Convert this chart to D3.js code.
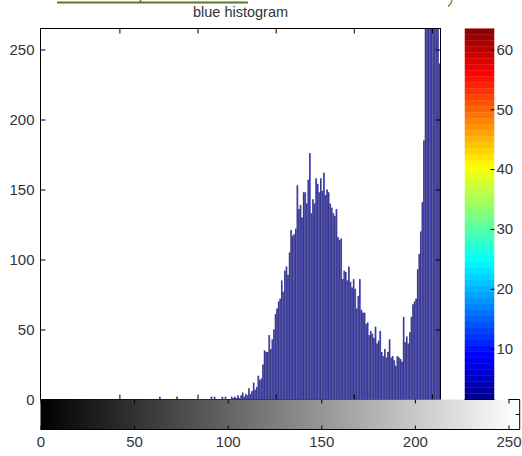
<!DOCTYPE html>
<html>
<head>
<meta charset="utf-8">
<script src="https://d3js.org/d3.v7.min.js"></script>
<style>
  body { margin: 0; background: #fff; }
  text { font-family: "Liberation Sans", Arial, sans-serif; }
</style>
</head>
<body>
<svg id="chart" width="522" height="456"></svg>
<script>
// pixel counts per blue intensity 0..255, 16 bins per row
var blueCounts = [
  0, 0, 0, 0, 0, 0, 0, 0, 0, 0, 0, 0, 0, 0, 0, 0,
  0, 0, 0, 0, 0, 0, 0, 0, 0, 0, 0, 0, 0, 0, 0, 0,
  0, 0, 0, 0, 0, 0, 0, 0, 0, 0, 0, 0, 0, 0, 0, 0,
  0, 0, 0, 0, 0, 0, 0, 0, 0, 0, 0, 0, 0, 0, 0, 0,
  0, 0, 0, 0, 0, 0, 0, 0, 0, 0, 0, 0, 2, 0, 0, 0,
  0, 0, 0, 0, 0, 0, 0, 2, 0, 0, 0, 0, 0, 0, 0, 0,
  0, 0, 0, 0, 0, 0, 0, 0, 0, 0, 0, 0, 0, 2, 0, 2,
  0, 0, 0, 0, 2, 0, 2, 0, 0, 0, 2, 1, 2, 1, 3, 1,
  3, 5, 2, 4, 3, 8, 4, 6, 12, 7, 9, 17, 14, 15, 25, 35,
  34, 34, 46, 36, 43, 50, 61, 65, 70, 72, 85, 77, 92, 95, 89, 105,
  121, 117, 118, 122, 153, 136, 139, 130, 148, 148, 140, 157, 176, 133, 143, 140,
  158, 154, 148, 158, 149, 162, 146, 150, 148, 140, 137, 133, 131, 136, 116, 114,
  115, 86, 92, 91, 85, 95, 84, 80, 86, 79, 65, 74, 86, 64, 62, 62,
  54, 55, 46, 49, 47, 44, 52, 40, 42, 49, 34, 31, 36, 30, 34, 43,
  30, 31, 28, 24, 31, 30, 29, 27, 59, 41, 45, 40, 48, 59, 68, 70,
  72, 93, 104, 120, 141, 185, 320, 410, 520, 600, 680, 720, 650, 560, 480, 240
];
var histTicks = [50, 100, 150, 200, 250];
var countTicks = [0, 50, 100, 150, 200, 250];
var grayTicks = [0, 50, 100, 150, 200, 250];
var colorTicks = [10, 20, 30, 40, 50, 60];
var titleText = "blue histogram";

var svg = d3.select("#chart");
var box = { left: 40.5, right: 440.5, top: 28.5, bottom: 399.5 };

var x = d3.scaleLinear().domain([-0.5, 255.5]).range([box.left, box.right]);
var y = d3.scaleLinear().domain([0, 265]).range([box.bottom, box.top]);
var gx = d3.scaleLinear().domain([0, 256]).range([40.5, 519.7]);
var cy = d3.scaleLinear().domain([1.5, 63.5]).range([399.5, 28.5]);

function jet(t) {
  function cl(v) { return Math.max(0, Math.min(1, v)); }
  var r = cl(1.5 - Math.abs(4 * t - 3)),
      g = cl(1.5 - Math.abs(4 * t - 2)),
      b = cl(1.5 - Math.abs(4 * t - 1));
  return d3.rgb(r * 255, g * 255, b * 255).toString();
}

var defs = svg.append("defs");
defs.append("clipPath").attr("id", "plotclip")
  .append("rect")
  .attr("x", box.left).attr("y", box.top)
  .attr("width", box.right - box.left).attr("height", box.bottom - box.top);
defs.append("clipPath").attr("id", "cbclip")
  .append("rect")
  .attr("x", 464.5).attr("y", 28.5).attr("width", 30).attr("height", 371);
var grad = defs.append("linearGradient").attr("id", "grayramp")
  .attr("gradientUnits", "userSpaceOnUse")
  .attr("x1", gx(0)).attr("x2", gx(255)).attr("y1", 0).attr("y2", 0);
grad.append("stop").attr("offset", 0).attr("stop-color", "#000");
grad.append("stop").attr("offset", 1).attr("stop-color", "#fff");

// stray green bits at the top of the screenshot
svg.append("line").attr("x1", 57).attr("x2", 248).attr("y1", 2.5).attr("y2", 2.5)
  .attr("stroke", "#5b7a22").attr("stroke-width", 2.2);
svg.append("path").attr("d", "M140.5,0 L140.5,2").attr("stroke", "#5b7a22").attr("stroke-width", 1.5);
svg.append("path").attr("d", "M452,0 Q451.5,4 448,6.5").attr("fill", "none")
  .attr("stroke", "#6d8a3a").attr("stroke-width", 1.2);

// title
svg.append("text")
  .attr("x", (box.left + box.right) / 2).attr("y", 17)
  .attr("text-anchor", "middle")
  .style("font-size", "14.5px").style("fill", "#333")
  .text(titleText);

// bars
var bins = blueCounts.map(function (c, i) { return { bin: i, count: c }; })
  .filter(function (d) { return d.count > 0; });

var barG = svg.append("g").attr("clip-path", "url(#plotclip)");
barG.selectAll("rect")
  .data(bins)
  .enter().append("rect")
  .attr("x", function (d) { return x(d.bin - 0.5); })
  .attr("width", function (d) { return x(d.bin + 0.5) - x(d.bin - 0.5); })
  .attr("y", function (d) { return y(d.count); })
  .attr("height", function (d) { return y(0) - y(d.count); })
  .attr("fill", "#5656cc");
// dark edge of each bar
barG.selectAll("line")
  .data(bins)
  .enter().append("line")
  .attr("x1", function (d) { return x(d.bin - 0.5) + 0.3; })
  .attr("x2", function (d) { return x(d.bin - 0.5) + 0.3; })
  .attr("y1", function (d) { return y(d.count); })
  .attr("y2", y(0))
  .attr("stroke", "#16164a")
  .attr("stroke-width", 0.6);

// axes box
svg.append("rect")
  .attr("x", box.left).attr("y", box.top)
  .attr("width", box.right - box.left).attr("height", box.bottom - box.top)
  .attr("fill", "none").attr("stroke", "#000");

function styleAxis(sel) {
  sel.select(".domain").remove();
  sel.selectAll("line").attr("stroke", "#000");
  sel.selectAll("text").style("font-size", "15px").style("fill", "#333")
    .style("font-family", "'Liberation Sans', Arial, sans-serif");
}

svg.append("g").attr("transform", "translate(" + box.left + ",0)")
  .call(d3.axisLeft(y).tickValues(countTicks).tickSizeInner(-5).tickSizeOuter(0).tickPadding(6))
  .call(styleAxis);
svg.append("g").attr("transform", "translate(" + box.right + ",0)")
  .call(d3.axisRight(y).tickValues(countTicks).tickSizeInner(-5).tickSizeOuter(0).tickFormat(""))
  .call(styleAxis);
svg.append("g").attr("transform", "translate(0," + box.top + ")")
  .call(d3.axisTop(x).tickValues(histTicks).tickSizeInner(-5).tickSizeOuter(0).tickFormat(""))
  .call(styleAxis);
svg.append("g").attr("transform", "translate(0," + box.bottom + ")")
  .call(d3.axisBottom(x).tickValues(histTicks).tickSizeInner(-5).tickSizeOuter(0).tickFormat(""))
  .call(styleAxis);

// grayscale strip under the histogram
svg.append("rect")
  .attr("x", gx(0)).attr("y", 399.5)
  .attr("width", gx(256) - gx(0)).attr("height", 30)
  .attr("fill", "url(#grayramp)");
svg.append("path")
  .attr("d", "M" + gx(0) + ",429.5 H" + gx(256) + " V399.5 H" + gx(250))
  .attr("fill", "none").attr("stroke", "#000");
svg.append("line")
  .attr("x1", gx(256) - 4).attr("x2", gx(256)).attr("y1", 414.5).attr("y2", 414.5)
  .attr("stroke", "#000");
svg.append("g").attr("transform", "translate(0,429.5)")
  .call(d3.axisBottom(gx).tickValues(grayTicks).tickSizeInner(-4).tickSizeOuter(0).tickPadding(7))
  .call(styleAxis);
svg.append("g").attr("transform", "translate(0,399.5)")
  .call(d3.axisTop(gx).tickValues(grayTicks).tickSizeInner(-4).tickSizeOuter(0).tickFormat(""))
  .call(styleAxis);

// colorbar
svg.append("g").attr("clip-path", "url(#cbclip)")
  .selectAll("rect")
  .data(d3.range(1, 65))
  .enter().append("rect")
  .attr("x", 464.5).attr("width", 30)
  .attr("y", function (i) { return cy(i + 0.5); })
  .attr("height", function (i) { return cy(i - 0.5) - cy(i + 0.5) + 0.3; })
  .attr("fill", function (i) { return jet((i - 1) / 63); });
svg.append("line").attr("x1", 464.5).attr("x2", 494.5).attr("y1", 399.5).attr("y2", 399.5)
  .attr("stroke", "#000");
svg.append("g").attr("transform", "translate(494.5,0)")
  .call(d3.axisRight(cy).tickValues(colorTicks).tickSizeInner(-4).tickSizeOuter(0).tickPadding(2))
  .call(styleAxis);
</script>
</body>
</html>
